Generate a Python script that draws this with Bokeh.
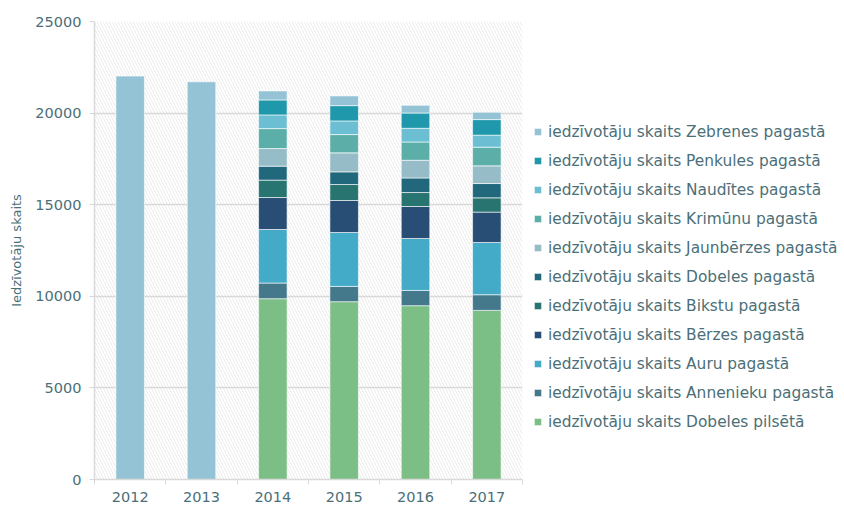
from bokeh.plotting import figure
from bokeh.models import ColumnDataSource, Legend, LegendItem, FixedTicker, BoxAnnotation, Range1d
from bokeh.embed import file_html
from bokeh.resources import INLINE

# ---- data ----
years = ["2012", "2013", "2014", "2015", "2016", "2017"]

total_years = ["2012", "2013"]
total_values = [22020, 21710]

stack_years = ["2014", "2015", "2016", "2017"]
dobeles_pilseta = [9869, 9706, 9487, 9231]
annenieku = [855, 834, 834, 855]
auru = [2923, 2944, 2835, 2852]
berzes = [1745, 1745, 1745, 1657]
bikstu = [949, 872, 763, 780]
dobeles_pagasts = [763, 692, 796, 780]
jaunberzes = [960, 1036, 965, 965]
krimunu = [1090, 998, 998, 1020]
nauditis = [747, 747, 747, 654]
penkules = [818, 834, 834, 851]
zebrenes = [491, 529, 420, 403]

series_labels = [
    "iedzīvotāju skaits Dobeles pilsētā",
    "iedzīvotāju skaits Annenieku pagastā",
    "iedzīvotāju skaits Auru pagastā",
    "iedzīvotāju skaits Bērzes pagastā",
    "iedzīvotāju skaits Bikstu pagastā",
    "iedzīvotāju skaits Dobeles pagastā",
    "iedzīvotāju skaits Jaunbērzes pagastā",
    "iedzīvotāju skaits Krimūnu pagastā",
    "iedzīvotāju skaits Naudītes pagastā",
    "iedzīvotāju skaits Penkules pagastā",
    "iedzīvotāju skaits Zebrenes pagastā",
]
series_values = [dobeles_pilseta, annenieku, auru, berzes, bikstu, dobeles_pagasts,
                 jaunberzes, krimunu, nauditis, penkules, zebrenes]
colors = ["#7CBF86", "#43798B", "#43AAC8", "#284E75", "#277470", "#22687D",
          "#95BCC7", "#5BAFA8", "#6CBFD3", "#2098AB", "#93C3D5"]
y_ticks = [0, 5000, 10000, 15000, 20000, 25000]

TEXT = "#4B6F78"
FONT = "DejaVu Sans"

# ---- figure ----
p = figure(frame_width=428, frame_height=458, output_backend="svg", toolbar_location=None,
           x_range=Range1d(-0.5, len(years) - 0.5), y_range=Range1d(0, 25000),
           min_border_left=94, min_border_top=21, min_border_bottom=22, min_border_right=314)
p.outline_line_color = None
p.background_fill_color = "white"
p.border_fill_color = "white"

p.add_layout(BoxAnnotation(fill_color=None, line_color=None, hatch_pattern="\\",
                           hatch_color="#ececec", hatch_scale=6, hatch_weight=1, level="image"))

# totals 2012-2013
tsrc = ColumnDataSource(dict(x=[years.index(y) for y in total_years], top=total_values))
p.vbar(x="x", top="top", width=0.4, source=tsrc, fill_color=colors[-1],
       line_color="white", line_alpha=0.6, line_width=1)

# stacked 2014-2017
keys = ["s%d" % i for i in range(len(series_values))]
data = dict(x=[years.index(y) for y in stack_years])
for k, v in zip(keys, series_values):
    data[k] = v
src = ColumnDataSource(data)
rs = p.vbar_stack(keys, x="x", width=0.4, source=src, fill_color=colors,
                  line_color="white", line_alpha=0.6, line_width=1)

items = [LegendItem(label=lab, renderers=[r]) for lab, r in zip(series_labels, rs)][::-1]
legend = Legend(items=items, location=(11, 47), border_line_color=None,
                background_fill_alpha=0, label_text_font=FONT, label_text_font_size="15.4px",
                label_text_color=TEXT, glyph_width=9, glyph_height=9, label_height=21,
                spacing=8, padding=4, margin=0, label_standoff=6)
p.add_layout(legend, "right")

# axes
p.xaxis.ticker = FixedTicker(ticks=list(range(len(years))),
                             minor_ticks=[i - 0.5 for i in range(len(years) + 1)])
p.xaxis.major_label_overrides = {i: y for i, y in enumerate(years)}
p.xaxis.major_tick_line_color = None
p.xaxis.minor_tick_in = 0
p.xaxis.minor_tick_out = 5
p.xaxis.minor_tick_line_color = "#d9d9d9"
p.xaxis.axis_line_color = "#d9d9d9"
p.xaxis.axis_line_width = 1.5
p.xaxis.major_label_text_font = FONT
p.xaxis.major_label_text_font_size = "14.5px"
p.xaxis.major_label_text_color = TEXT
p.xaxis.major_label_standoff = 6

p.yaxis.ticker = FixedTicker(ticks=y_ticks)
p.yaxis.minor_tick_line_color = None
p.yaxis.major_tick_in = 0
p.yaxis.major_tick_out = 5
p.yaxis.major_tick_line_color = "#d9d9d9"
p.yaxis.axis_line_color = "#d9d9d9"
p.yaxis.axis_line_width = 1.5
p.yaxis.major_label_text_font = FONT
p.yaxis.major_label_text_font_size = "14.5px"
p.yaxis.major_label_text_color = TEXT
p.yaxis.major_label_standoff = 8
p.yaxis.axis_label = "Iedzīvotāju skaits"
p.yaxis.axis_label_text_font = FONT
p.yaxis.axis_label_text_font_size = "13px"
p.yaxis.axis_label_text_font_style = "normal"
p.yaxis.axis_label_text_color = TEXT
p.yaxis.axis_label_standoff = 8

p.xgrid.grid_line_color = None
p.ygrid.grid_line_color = "#d9d9d9"
p.ygrid.grid_line_width = 1.5

open("out.html", "w").write(file_html(p, INLINE))
